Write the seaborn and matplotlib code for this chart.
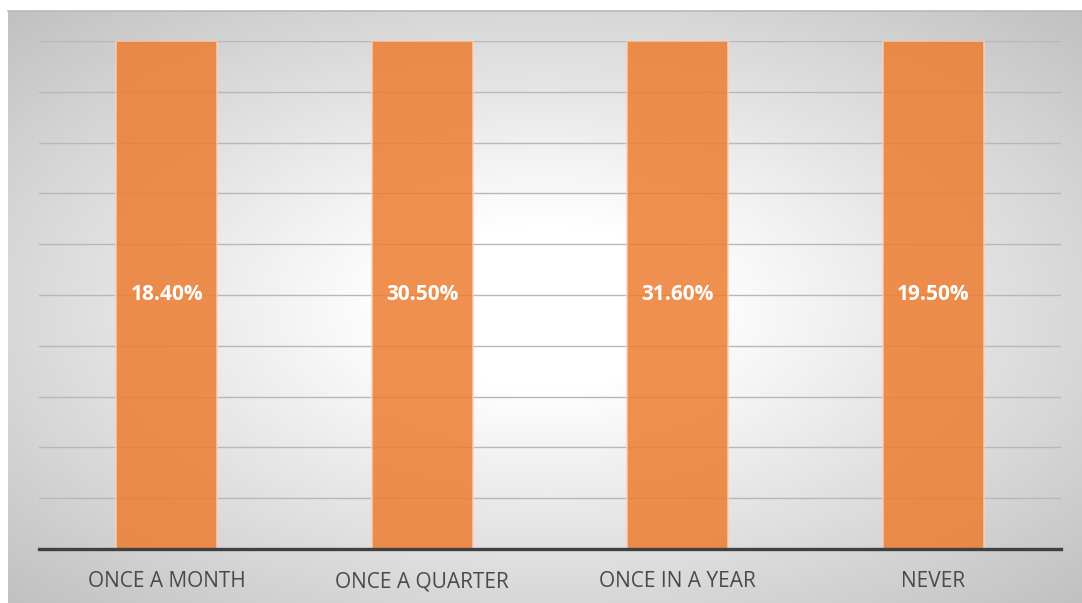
import numpy as np
import pandas as pd
import matplotlib
matplotlib.use("Agg")
import matplotlib.pyplot as plt
import seaborn as sns

# Survey answers and their shares
categories = ["ONCE A MONTH", "ONCE A QUARTER", "ONCE IN A YEAR", "NEVER"]
values = [18.40, 30.50, 31.60, 19.50]
value_labels = ["18.40%", "30.50%", "31.60%", "19.50%"]
y_ticks = [0, 10, 20, 30, 40, 50, 60, 70, 80, 90, 100]

# 100% stacked columns with a single series: each column fills its own stack
df = pd.DataFrame({"category": categories, "value": values})
df["stack_total"] = df["value"]
df["share"] = df["value"] / df["stack_total"] * 100

sns.set_theme(style="white")
plt.rcParams["font.family"] = ["Open Sans", "DejaVu Sans"]

W, H = 1082, 603
fig = plt.figure(figsize=(W / 100, H / 100), dpi=100)
fig.patch.set_facecolor("white")

# Radial grey-to-white background panel
bg_left, bg_top = 8 / W, 11 / H
bg = fig.add_axes([bg_left, 0, 1 - bg_left, 1 - bg_top], zorder=0)
nx, ny = 540, 300
xx, yy = np.meshgrid(np.linspace(-1, 1, nx), np.linspace(-1, 1, ny))
d = np.sqrt(xx ** 2 + yy ** 2)
shade = 255 - 55 * np.clip(d - 0.28, 0, None)
shade = np.clip(shade, 0, 255) / 255
bg.imshow(np.dstack([shade, shade, shade]), aspect="auto", extent=[0, 1, 0, 1],
          interpolation="bilinear")
bg.set_xlim(0, 1)
bg.set_ylim(0, 1)
bg.set_xticks([])
bg.set_yticks([])
for side in ["left", "right", "bottom"]:
    bg.spines[side].set_visible(False)
bg.spines["top"].set_color("#b8b8b8")
bg.spines["top"].set_linewidth(1.2)

ax = fig.add_axes([39 / W, 1 - 549 / H, (1061 - 39) / W, (549 - 41) / H], zorder=1)
ax.patch.set_alpha(0)

sns.barplot(data=df, x="category", y="share", ax=ax, color="#ED7D31",
            width=0.395, saturation=1, alpha=0.85, edgecolor="#f7d2b8",
            linewidth=1.2, zorder=3)

ax.set_ylim(0, 100)
ax.set_xlim(-0.5, len(categories) - 0.5)
ax.set_yticks(y_ticks)
ax.yaxis.grid(True, color="#b8b8b8", linewidth=1.0, zorder=1)
ax.set_axisbelow(True)
ax.tick_params(axis="y", left=False, labelleft=False)
ax.tick_params(axis="x", bottom=False, pad=10, labelsize=15, labelcolor="#4a4a4a")
ax.set_xlabel("")
ax.set_ylabel("")
for side in ["left", "right", "top"]:
    ax.spines[side].set_visible(False)
ax.spines["bottom"].set_color("#404040")
ax.spines["bottom"].set_linewidth(2.4)
ax.spines["bottom"].set_zorder(5)

# Value labels centred in each column segment
for i, (share, lab) in enumerate(zip(df["share"], value_labels)):
    ax.text(i, share / 2, lab, ha="center", va="center", color="white",
            fontsize=15, fontweight="bold", zorder=6)

fig.savefig("out.png", dpi=100, facecolor="white")
